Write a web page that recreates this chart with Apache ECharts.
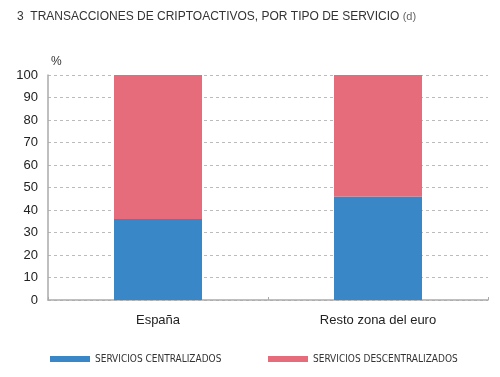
<!DOCTYPE html>
<html>
<head>
<meta charset="utf-8">
<script src="https://cdn.jsdelivr.net/npm/echarts@6/dist/echarts.min.js"></script>
<style>
  html, body { margin: 0; padding: 0; background: #fff; }
  #chart { width: 500px; height: 377px; }
</style>
</head>
<body>
<div id="chart"></div>
<script>
  var categories = ['España', 'Resto zona del euro'];
  var centralizados = [36, 46];
  var descentralizados = [64, 54];
  var seriesNames = ['SERVICIOS CENTRALIZADOS', 'SERVICIOS DESCENTRALIZADOS'];

  var legendText = {
    fontFamily: 'DejaVu Sans Condensed',
    fontSize: 10,
    color: '#333'
  };

  var myChart = echarts.init(document.getElementById('chart'));
  var option = {
    animation: false,
    title: {
      text: '3  TRANSACCIONES DE CRIPTOACTIVOS, POR TIPO DE SERVICIO {d|(d)}',
      left: 12,
      top: 6,
      textStyle: {
        fontFamily: 'Liberation Sans',
        fontSize: 12,
        fontWeight: 'normal',
        color: '#333',
        rich: { d: { fontSize: 11, color: '#666', fontFamily: 'Liberation Sans' } }
      }
    },
    graphic: [{
      type: 'text',
      left: 51,
      top: 56,
      style: { text: '%', font: '12px "Liberation Sans"', fill: '#333' }
    }],
    legend: [
      {
        top: 349,
        left: 45,
        itemWidth: 40,
        itemHeight: 6,
        itemGap: 6,
        icon: 'rect',
        textStyle: legendText,
        data: [seriesNames[0]]
      },
      {
        top: 349,
        left: 263,
        itemWidth: 40,
        itemHeight: 6,
        icon: 'rect',
        textStyle: legendText,
        data: [seriesNames[1]]
      }
    ],
    grid: { left: 48, right: 12, top: 75, bottom: 77 },
    xAxis: {
      type: 'category',
      data: categories,
      axisLine: { lineStyle: { color: '#aaa', width: 1.5 } },
      axisTick: { show: true, inside: true, length: 3, lineStyle: { color: '#aaa' } },
      axisLabel: { fontFamily: 'Liberation Sans', fontSize: 13, color: '#222', margin: 14 }
    },
    yAxis: {
      type: 'value',
      min: 0,
      max: 100,
      interval: 10,
      axisLine: { show: true, lineStyle: { color: '#aaa', width: 1.5 } },
      axisTick: { show: false },
      axisLabel: { fontFamily: 'Liberation Sans', fontSize: 13, color: '#222', margin: 10 },
      splitLine: { lineStyle: { color: '#bbb', type: [3, 3] } }
    },
    series: [
      {
        name: seriesNames[0],
        type: 'bar',
        stack: 'total',
        barWidth: '40%',
        itemStyle: { color: '#3a87c8' },
        data: centralizados
      },
      {
        name: seriesNames[1],
        type: 'bar',
        stack: 'total',
        barWidth: '40%',
        itemStyle: { color: '#e66b7b' },
        data: descentralizados
      }
    ]
  };
  myChart.setOption(option);
</script>
</body>
</html>
